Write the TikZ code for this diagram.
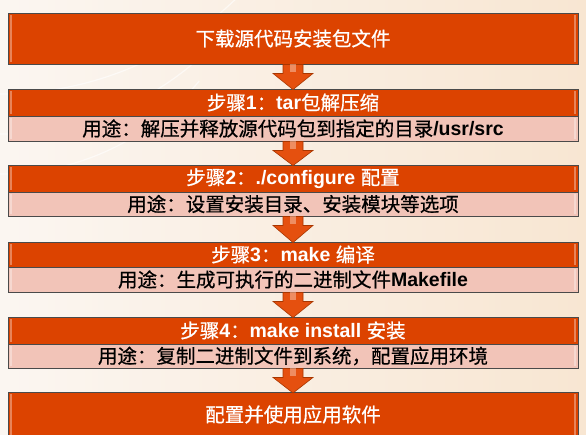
\documentclass[tikz,border=0pt]{standalone}
\usepackage{fontspec}
\setmainfont{Liberation Sans}
\newfontfamily\cjk[FakeBold=0.6]{Noto Sans CJK SC}
\usetikzlibrary{calc}
\definecolor{hdr}{HTML}{DC4300}
\definecolor{pur}{HTML}{F2C4B8}
\definecolor{edge}{HTML}{4A4A4A}
\definecolor{arr}{HTML}{E5500F}
\definecolor{arrd}{HTML}{A83600}
\definecolor{bgl}{HTML}{FBF6F1}
\definecolor{bgr}{HTML}{F8E6D2}
\newcommand\zh[1]{{\cjk #1}}
\newcommand\en[1]{{\bfseries #1}}
\tikzset{
  bigbox/.style={draw=edge, line width=0.9pt, fill=hdr, minimum width=570pt, text=white, font=\fontsize{19.5}{21}\selectfont, inner sep=0pt},
  hdrbox/.style={draw=edge, line width=0.9pt, fill=hdr, minimum width=570pt, text=white, font=\fontsize{19.5}{21}\selectfont, inner sep=0pt},
  purbox/.style={draw=edge, line width=0.9pt, fill=pur, minimum width=570pt, text=black, font=\fontsize{19.5}{21}\selectfont, inner sep=0pt},
  flowarrow/.style={fill=arr, draw=arrd, line width=0.6pt, line join=miter},
}
\newcommand\blockarrow[2]{%
  \path[flowarrow] ($(#1.south)+(-10,0)$) -- ($(#1.south)+(10,0)$) -- ($(#1.south)+(10,9)$) -- ($(#1.south)+(20,9)$)
     -- ($(#2.north)+(0,1)$) -- ($(#1.south)+(-20,9)$) -- ($(#1.south)+(-10,9)$) -- cycle;
  \fill[white, opacity=0.35] ($(#1.south)+(-3,0)$) rectangle ($(#1.south)+(3,8)$);
}
\begin{document}
\begin{tikzpicture}[x=1pt,y=-1pt]
\clip (0,0) rectangle (586,434);
\shade[left color=bgl, right color=bgr] (0,0) rectangle (586,434);
\foreach \r in {260,300,340}
  \draw[white, opacity=0.6, line width=1.2pt] (0,434) ++(0,-\r) arc[start angle=90, end angle=40, radius=\r];
% nodes
\node[bigbox, minimum height=51pt] (top) at (293,38.5) {\zh{下载源代码安装包文件}};
\node[hdrbox, minimum height=27pt] (h1) at (293,102.5) {\zh{步骤}\en{1}\zh{：}\en{tar}\zh{包解压缩}};
\node[purbox, minimum height=25pt] (p1) at (293,128.5) {\zh{用途：解压并释放源代码包到指定的目录}\en{/usr/src}};
\node[hdrbox, minimum height=27pt] (h2) at (293,178.5) {\zh{步骤}\en{2}\zh{：}\en{./configure }\zh{配置}};
\node[purbox, minimum height=24pt] (p2) at (293,204) {\zh{用途：设置安装目录、安装模块等选项}};
\node[hdrbox, minimum height=25pt] (h3) at (293,254.5) {\zh{步骤}\en{3}\zh{：}\en{make }\zh{编译}};
\node[purbox, minimum height=25pt] (p3) at (293,279.5) {\zh{用途：生成可执行的二进制文件}\en{Makefile}};
\node[hdrbox, minimum height=27pt] (h4) at (293,330.5) {\zh{步骤}\en{4}\zh{：}\en{make install }\zh{安装}};
\node[purbox, minimum height=24pt] (p4) at (293,356) {\zh{用途：复制二进制文件到系统，配置应用环境}};
\node[bigbox, minimum height=44pt, anchor=north] (fin) at (293,392) {\zh{配置并使用应用软件}};
% gloss strips
\foreach \n in {top,h1,p1,h2,p2,h3,p3,h4,p4,fin}{
  \fill[white, opacity=0.35] ($(\n.north west)+(2.5,2)$) rectangle ($(\n.south west)+(4.5,-2)$);
  \fill[white, opacity=0.35] ($(\n.north east)+(-4.5,2)$) rectangle ($(\n.south east)+(-2.5,-2)$);
}
% arrows
\blockarrow{top}{h1}
\blockarrow{p1}{h2}
\blockarrow{p2}{h3}
\blockarrow{p3}{h4}
\blockarrow{p4}{fin}
\end{tikzpicture}
\end{document}
